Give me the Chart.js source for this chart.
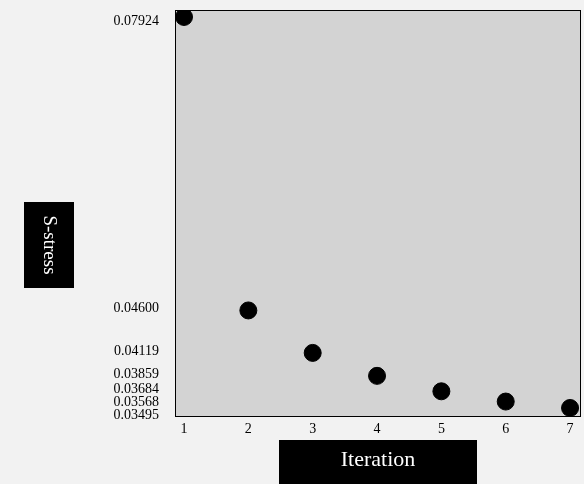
<!DOCTYPE html>
<html>
<head>
<meta charset="utf-8">
<title>S-stress by iteration</title>
<script src="https://cdn.jsdelivr.net/npm/chart.js@4/dist/chart.umd.min.js"></script>
<style>
    html, body { margin: 0; padding: 0; background: #f2f2f2; }
    #stressChart { display: block; }
</style>
</head>
<body>
<canvas id="stressChart" width="584" height="484"></canvas>
<script>
const iterations = [1, 2, 3, 4, 5, 6, 7];
const stressValues = [0.07924, 0.04600, 0.04119, 0.03859, 0.03684, 0.03568, 0.03495];
const stressLabels = ["0.07924", "0.04600", "0.04119", "0.03859", "0.03684", "0.03568", "0.03495"];

const serif = "'Liberation Serif', 'Times New Roman', serif";

// grey plot area with a black frame
const plotBackground = {
    id: "plotBackground",
    beforeDatasetsDraw(chart) {
        const { ctx, chartArea } = chart;
        ctx.save();
        ctx.fillStyle = "#d3d3d3";
        ctx.fillRect(chartArea.left, chartArea.top, chartArea.width, chartArea.height);
        ctx.strokeStyle = "#000";
        ctx.lineWidth = 1;
        ctx.strokeRect(chartArea.left + 0.5, chartArea.top + 0.5, chartArea.width - 1, chartArea.height - 1);
        ctx.restore();
    }
};

// y labels sit at the data values, pushed down a little when they would overlap
const stressTickLabels = {
    id: "stressTickLabels",
    afterDraw(chart) {
        const { ctx } = chart;
        const yScale = chart.scales.y;
        const right = chart.chartArea.left - 16;
        let lastY = 21;
        ctx.save();
        ctx.font = "14px " + serif;
        ctx.fillStyle = "#000";
        ctx.textAlign = "right";
        ctx.textBaseline = "middle";
        stressValues.forEach((v, i) => {
            let y = yScale.getPixelForValue(v) - 2;
            y = Math.max(y, lastY + (i == 0 ? 0 : 13));
            ctx.fillText(stressLabels[i], right, y);
            lastY = y;
        });
        ctx.restore();
    }
};

// black boxes holding the axis titles
const axisTitleBoxes = {
    id: "axisTitleBoxes",
    afterDraw(chart) {
        const { ctx, chartArea } = chart;
        ctx.save();

        const xMid = (chartArea.left + chartArea.right) / 2;
        ctx.fillStyle = "#000";
        ctx.fillRect(xMid - 99, 440, 198, 50);
        ctx.fillStyle = "#fff";
        ctx.font = "22px " + serif;
        ctx.textAlign = "center";
        ctx.textBaseline = "middle";
        ctx.fillText("Iteration", xMid, 460);

        ctx.fillStyle = "#000";
        ctx.fillRect(24, 202, 50, 86);
        ctx.translate(49, 245);
        ctx.rotate(Math.PI / 2);
        ctx.fillStyle = "#fff";
        ctx.font = "19px " + serif;
        ctx.fillText("S-stress", 0, 0);

        ctx.restore();
    }
};

document.addEventListener("DOMContentLoaded", function () {
    const points = iterations.map((it, i) => ({ x: it, y: stressValues[i] }));
    const ctx = document.getElementById("stressChart").getContext("2d");

    window.stressChart = new Chart(ctx, {
        type: "scatter",
        data: {
            datasets: [{
                label: "S-stress",
                data: points,
                backgroundColor: "#000",
                borderColor: "#000",
                pointRadius: 8.5,
                pointHoverRadius: 8.5,
                clip: 0
            }]
        },
        options: {
            responsive: false,
            animation: false,
            events: [],
            layout: {
                autoPadding: false,
                padding: { top: 10, right: 3, left: 0, bottom: 0 }
            },
            plugins: {
                legend: { display: false },
                tooltip: { enabled: false }
            },
            scales: {
                x: {
                    type: "linear",
                    min: 0.86,
                    max: 7.17,
                    grid: { display: false, drawTicks: false },
                    border: { display: false },
                    afterBuildTicks: function (scale) {
                        scale.ticks = iterations.map(v => ({ value: v }));
                    },
                    afterFit: function (scale) {
                        scale.height = 67;
                        scale.paddingLeft = 0;
                        scale.paddingRight = 0;
                    },
                    ticks: {
                        padding: 4,
                        color: "#000",
                        autoSkip: false,
                        maxRotation: 0,
                        font: { family: serif, size: 14 }
                    }
                },
                y: {
                    type: "linear",
                    min: 0.03393,
                    max: 0.08003,
                    grid: { display: false, drawTicks: false },
                    border: { display: false },
                    afterBuildTicks: function (scale) {
                        scale.ticks = stressValues.map(v => ({ value: v }));
                    },
                    afterFit: function (scale) {
                        scale.width = 175;
                        scale.paddingTop = 0;
                        scale.paddingBottom = 0;
                    },
                    ticks: { display: false }
                }
            }
        },
        plugins: [plotBackground, stressTickLabels, axisTitleBoxes]
    });
});
</script>
</body>
</html>
